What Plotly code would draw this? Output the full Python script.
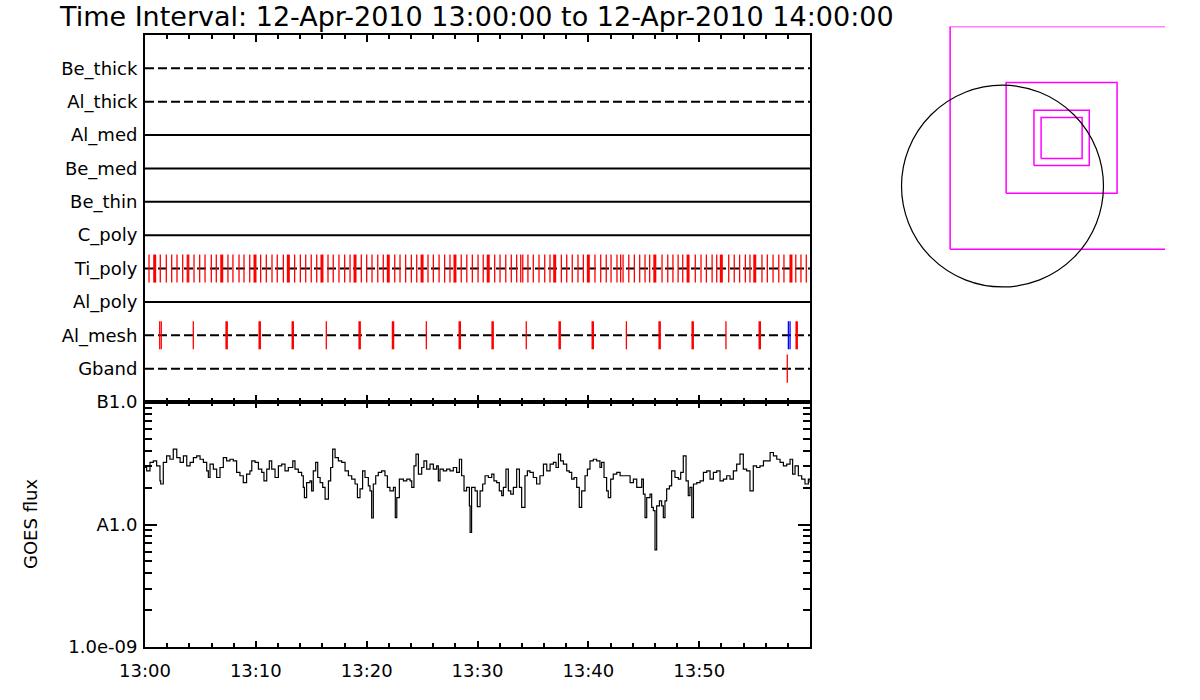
import pandas as pd
import plotly.graph_objects as go

# ---------------- data ----------------
T0 = pd.Timestamp("2010-04-12 13:00:00")
T1 = pd.Timestamp("2010-04-12 14:00:00")

row_labels = ["Be_thick", "Al_thick", "Al_med", "Be_med", "Be_thin",
              "C_poly", "Ti_poly", "Al_poly", "Al_mesh", "Gband"]

# event times, seconds after 13:00:00
ti_poly_single = [21.7, 82.8, 115.3, 144.5, 173.2, 204, 229, 236.6, 265.3, 296,
                  325, 359, 386, 449, 476, 509, 536, 567, 626, 656.7,
                  687.5, 716, 749, 810, 841, 870, 900, 929.5, 990.7, 1019,
                  1050, 1081, 1110, 1171, 1200, 1229, 1260, 1290, 1352, 1380.5,
                  1411, 1442, 1471, 1532, 1561, 1592, 1622, 1651, 1712, 1742,
                  1772, 1803, 1831, 1893, 1922, 1953, 1983, 2012, 2034, 2045,
                  2073, 2102, 2133, 2164, 2192.5, 2254, 2283, 2313, 2344, 2373,
                  2436, 2467, 2497, 2523, 2555, 2575, 2588, 2619, 2649, 2678,
                  2707, 2732, 2799, 2830, 2858, 2886, 2911, 2979, 3010, 3039,
                  3070, 3095, 3160, 3190, 3219, 3250, 3275, 3340, 3369, 3400,
                  3431, 3459, 3523, 3551, 3580]
ti_poly_multi = [52.5, 415.5, 595.5, 776, 958, 1137, 1317, 1500, 1678, 1858,
                 2218, 2400, 2760, 2940, 3120, 3301, 3497]
al_mesh_single = [79.6, 88, 261.5, 981.5, 1523, 2064, 2606, 3145]
al_mesh_multi = [442, 621, 800, 1162, 1342.6, 1704, 1882, 2245, 2424, 2786,
                 2965, 3328, 3528]
al_mesh_blue = [3483, 3492]
gband_events = [3477]

# GOES flux (units of 1e-8 W m^-2) at seconds after 13:00:00
goes_sec = [0, 9, 27, 45, 63, 81, 85, 99, 117, 135,
            153, 172, 190, 208, 226, 244, 262, 280, 298, 316,
            334, 343, 352, 370, 388, 406, 424, 442, 460, 478,
            496, 514, 532, 550, 568, 578, 596, 614, 632, 644,
            659, 673, 686, 704, 722, 740, 758, 776, 800, 812,
            830, 848, 857, 863, 875, 893, 902, 911, 924, 935,
            948, 962, 975, 993, 1005, 1016, 1029, 1047, 1065, 1083,
            1101, 1119, 1137, 1150, 1164, 1178, 1191, 1209, 1218, 1227,
            1236, 1249, 1263, 1281, 1299, 1312, 1326, 1345, 1355, 1363,
            1377, 1399, 1417, 1435, 1444, 1456, 1467, 1480, 1498, 1510,
            1525, 1543, 1561, 1579, 1588, 1597, 1615, 1633, 1651, 1669,
            1687, 1702, 1714, 1727, 1741, 1756, 1760, 1768, 1787, 1799,
            1814, 1828, 1841, 1859, 1877, 1889, 1904, 1918, 1931, 1940,
            1954, 1967, 1980, 1994, 2012, 2027, 2039, 2057, 2070, 2084,
            2102, 2120, 2138, 2157, 2175, 2193, 2211, 2225, 2238, 2250,
            2265, 2283, 2297, 2310, 2323, 2337, 2351, 2364, 2382, 2395,
            2409, 2427, 2445, 2463, 2472, 2485, 2499, 2508, 2521, 2535,
            2554, 2572, 2590, 2608, 2626, 2644, 2662, 2680, 2689, 2698,
            2707, 2716, 2734, 2743, 2752, 2761, 2770, 2785, 2797, 2806,
            2815, 2824, 2839, 2851, 2869, 2887, 2900, 2914, 2929, 2941,
            2950, 2960, 2969, 2987, 3005, 3023, 3041, 3059, 3077, 3095,
            3113, 3131, 3149, 3167, 3185, 3203, 3221, 3239, 3257, 3275,
            3293, 3311, 3329, 3348, 3366, 3384, 3402, 3420, 3438, 3456,
            3474, 3492, 3506, 3519, 3537, 3555, 3573, 3591, 3600]
goes_flux = [2.92, 2.74, 3.21, 3.31, 3.01, 2.27, 2.14, 3.21, 3.63, 3.41,
             4.12, 3.52, 3.21, 3.63, 3.01, 3.21, 3.52, 3.63, 3.41, 3.21,
             2.74, 2.42, 3.11, 2.83, 2.42, 2.92, 3.52, 3.31, 3.41, 3.31,
             2.66, 2.50, 2.20, 2.58, 2.74, 3.31, 3.21, 2.83, 2.66, 2.27,
             2.83, 3.31, 2.83, 2.42, 3.01, 3.11, 2.74, 2.92, 3.31, 2.83,
             2.66, 2.50, 2.01, 1.66, 2.20, 2.27, 1.88, 2.74, 3.21, 2.42,
             2.20, 2.01, 1.61, 2.27, 2.92, 4.12, 3.52, 3.31, 3.21, 2.74,
             2.50, 2.35, 2.14, 1.66, 1.95, 2.74, 2.42, 2.07, 1.88, 1.13,
             2.14, 2.50, 2.66, 2.74, 2.50, 2.01, 1.88, 2.01, 1.14, 1.66,
             2.35, 2.27, 2.35, 2.27, 2.01, 3.01, 3.75, 2.58, 2.92, 3.31,
             2.83, 3.11, 2.83, 3.01, 2.27, 2.83, 2.74, 2.83, 2.74, 2.92,
             2.66, 3.41, 2.50, 1.88, 2.01, 1.42, 0.86, 2.01, 1.88, 1.40,
             1.88, 2.14, 2.50, 2.42, 2.58, 2.27, 2.20, 1.88, 1.72, 2.01,
             2.83, 1.88, 1.77, 2.01, 2.83, 2.01, 1.38, 2.50, 2.74, 2.66,
             2.42, 2.14, 2.50, 3.11, 2.74, 3.11, 3.21, 2.92, 3.75, 3.31,
             3.11, 2.74, 2.66, 2.35, 2.42, 2.01, 1.38, 1.88, 2.50, 2.83,
             3.31, 3.41, 3.31, 2.92, 3.21, 2.42, 1.88, 1.66, 2.35, 2.58,
             2.66, 2.50, 2.50, 2.50, 2.20, 2.35, 2.01, 2.01, 2.35, 1.77,
             1.14, 1.66, 1.77, 1.38, 1.30, 0.62, 1.42, 1.56, 1.42, 1.14,
             1.56, 1.95, 2.07, 2.74, 2.42, 2.35, 2.66, 3.63, 2.27, 1.72,
             2.01, 1.14, 2.14, 2.20, 2.27, 2.66, 2.74, 2.35, 2.66, 2.74,
             2.27, 2.35, 2.50, 2.35, 2.74, 3.11, 3.75, 2.83, 2.74, 1.88,
             3.01, 2.92, 3.01, 3.31, 3.31, 3.87, 3.63, 3.41, 3.21, 3.01,
             3.11, 3.41, 2.58, 3.01, 2.50, 2.35, 2.14, 2.35, 2.20]
assert len(goes_sec) == len(goes_flux)

x_tick_sec = [0, 600, 1200, 1800, 2400, 3000]
x_tick_labels = ["13:00", "13:10", "13:20", "13:30", "13:40", "13:50"]
y_tick_vals = [1e-9, 1e-8, 1e-7]
y_tick_labels = ["1.0e-09", "A1.0", "B1.0"]

# Field-of-view sketch (arcsec): solar disk and imaging squares
sun_radius = 960
fov_center_x = 562
fov_center_y = 458
fov_sizes = [2120, 1055, 526, 390]

# ---------------- styles ----------------
row_dashed = [True, True, False, False, False, False, True, False, True, True]
RED, BLUE, MAG = "#ff0000", "#0000ff", "#ff00ff"
FONT = "DejaVu Sans"


def ts(secs):
    return [T0 + pd.Timedelta(seconds=s) for s in secs]


fig = go.Figure()
nrow = len(row_labels)
row_y = {lab: nrow - i for i, lab in enumerate(row_labels)}

for lab, dashed in zip(row_labels, row_dashed):
    fig.add_trace(go.Scatter(
        x=[T0, T1], y=[row_y[lab], row_y[lab]], mode="lines",
        line=dict(color="black", width=2, dash="9px,4px" if dashed else "solid"),
        xaxis="x", yaxis="y", hoverinfo="skip", showlegend=False))


def vmarks(secs, lab, color, width, half=0.42):
    xs, ys = [], []
    y = row_y[lab]
    for t in ts(secs):
        xs += [t, t, None]
        ys += [y - half, y + half, None]
    fig.add_trace(go.Scatter(x=xs, y=ys, mode="lines",
                             line=dict(color=color, width=width),
                             xaxis="x", yaxis="y", hoverinfo="skip",
                             showlegend=False))


vmarks(ti_poly_single, "Ti_poly", RED, 1.3)
vmarks(ti_poly_multi, "Ti_poly", RED, 3)
vmarks(al_mesh_single, "Al_mesh", RED, 1.3)
vmarks(al_mesh_multi, "Al_mesh", RED, 2.5)
vmarks(al_mesh_blue, "Al_mesh", BLUE, 1.3)
vmarks(gband_events, "Gband", RED, 1.3)

# GOES curve
fig.add_trace(go.Scatter(
    x=ts(goes_sec), y=[f * 1e-8 for f in goes_flux], mode="lines",
    line=dict(color="black", width=1.2, shape="hv"),
    xaxis="x2", yaxis="y2", hoverinfo="skip", showlegend=False))

# FOV squares
for s in fov_sizes:
    h = s / 2
    xs = [fov_center_x - h, fov_center_x + h, fov_center_x + h, fov_center_x - h, fov_center_x - h]
    ys = [fov_center_y - h, fov_center_y - h, fov_center_y + h, fov_center_y + h, fov_center_y - h]
    fig.add_trace(go.Scatter(x=xs, y=ys, mode="lines",
                             line=dict(color=MAG, width=1.5),
                             xaxis="x3", yaxis="y3", hoverinfo="skip",
                             showlegend=False))

H = 700.0
W = 1200.0
xdom = [145 / W, 810 / W]

common_x = dict(domain=xdom, range=[T0, T1], showline=True, linecolor="black",
                linewidth=2, mirror="ticks", showgrid=False, zeroline=False,
                ticks="inside", tickcolor="black", tickwidth=2,
                tickvals=ts(x_tick_sec),
                minor=dict(ticks="inside", ticklen=4, tickwidth=2,
                           tickcolor="black", dtick=120000,
                           tick0="2010-04-12 13:00:00", showgrid=False))

fig.update_layout(
    width=1200, height=700,
    margin=dict(l=0, r=0, t=0, b=0, autoexpand=False),
    paper_bgcolor="white", plot_bgcolor="white", showlegend=False,
    font=dict(family=FONT, size=18, color="black"),
    xaxis=dict(common_x, anchor="y", ticklen=7, showticklabels=False),
    xaxis2=dict(common_x, anchor="y2", ticklen=6, ticktext=x_tick_labels,
                showticklabels=True, ticklabelstandoff=6,
                tickfont=dict(family=FONT, size=18)),
    yaxis=dict(domain=[1 - 402 / H, 1 - 35 / H], anchor="x", range=[0, nrow + 1],
               tickvals=[row_y[l] for l in row_labels], ticktext=row_labels,
               ticks="", showline=True, linecolor="black", linewidth=2,
               mirror=True, showgrid=False, zeroline=False,
               ticklabelstandoff=2, tickfont=dict(family=FONT, size=18)),
    yaxis2=dict(domain=[1 - 647 / H, 1 - 402 / H], anchor="x2", type="log",
                range=[-9, -7], tickvals=y_tick_vals, ticktext=y_tick_labels,
                ticks="inside", ticklen=12, tickwidth=1.5, tickcolor="black",
                showline=True, linecolor="black", linewidth=2, mirror="ticks",
                showgrid=False, zeroline=False, ticklabelstandoff=2,
                tickfont=dict(family=FONT, size=18),
                minor=dict(ticks="inside", ticklen=7, tickwidth=1.5,
                           tickcolor="black", showgrid=False,
                           tickvals=[2e-9, 3e-9, 4e-9, 5e-9, 6e-9, 7e-9, 8e-9, 9e-9,
                                     2e-8, 3e-8, 4e-8, 5e-8, 6e-8, 7e-8, 8e-8, 9e-8])),
    xaxis3=dict(domain=[895 / W, 1165 / W], anchor="y3", range=[-1022, 1545],
                visible=False),
    yaxis3=dict(domain=[1 - 292 / H, 1 - 26.5 / H], anchor="x3",
                range=[-1008, 1518], visible=False),
    shapes=[dict(type="circle", xref="x3", yref="y3",
                 x0=-sun_radius, x1=sun_radius, y0=-sun_radius, y1=sun_radius,
                 line=dict(color="black", width=1.2))],
    annotations=[
        dict(text="Time Interval: 12-Apr-2010 13:00:00 to 12-Apr-2010 14:00:00",
             xref="paper", yref="paper", x=476 / W, y=1 - 16 / H,
             xanchor="center", yanchor="middle", showarrow=False,
             font=dict(family=FONT, size=27)),
        dict(text="GOES flux", xref="paper", yref="paper", x=30 / W,
             y=1 - 524 / H, textangle=-90, xanchor="center", yanchor="middle",
             showarrow=False, font=dict(family=FONT, size=18)),
    ],
)

fig.write_html("out.html",
               config={"displayModeBar": False},
               post_script="document.body.style.margin='0';"
                           "document.body.style.overflow='hidden';")
